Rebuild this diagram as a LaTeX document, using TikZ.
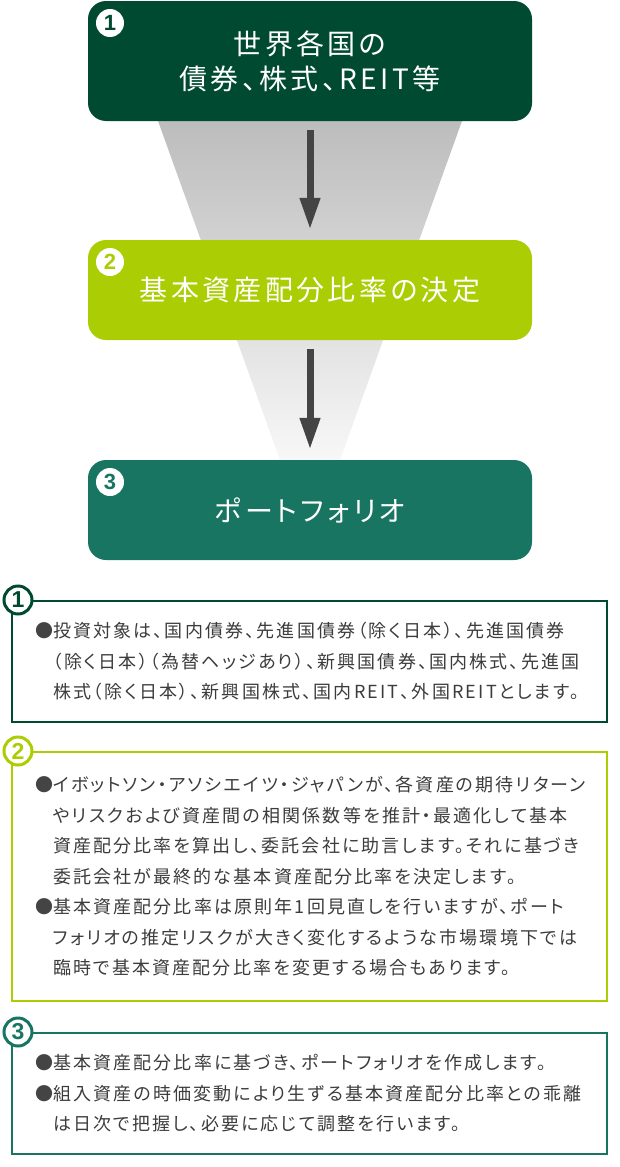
\documentclass[tikz,border=0pt]{standalone}
\usepackage{fontspec}
\usetikzlibrary{arrows.meta}
\setmainfont{Noto Sans CJK JP}
\newfontfamily\titlefont{Noto Sans CJK JP}[LetterSpace=12,RawFeature=+palt]
\newfontfamily\notefont{Noto Sans CJK JP}[LetterSpace=12,RawFeature=+palt]
\newfontfamily\numfont{Liberation Sans}
\definecolor{deepgreen}{HTML}{004A32}
\definecolor{leafgreen}{HTML}{ABCD03}
\definecolor{tealgreen}{HTML}{177562}
\definecolor{notegray}{HTML}{3C3C3C}
\definecolor{arrowgray}{HTML}{444444}
\newcommand{\bul}{\textcolor{arrowgray}{●}}
\newcommand{\ind}{\hphantom{●}}
\tikzset{
  flowbox/.style={rounded corners=18pt, minimum width=444pt, minimum height=120pt,
    text=white, align=center, font=\titlefont\fontsize{28}{35}\selectfont},
  flowarrow/.style={draw=arrowgray, line width=7pt, -{Triangle[width=19pt,length=32pt]},
    shorten <=9pt, shorten >=10pt},
  badge/.style={circle, fill=white, minimum size=28pt, inner sep=0pt,
    font=\numfont\bfseries\fontsize{22}{22}\selectfont},
  notebox/.style={draw, line width=2.5pt, minimum width=595pt, text width=549pt,
    inner xsep=23pt, align=left, text=notegray, font=\notefont\fontsize{18}{30.5}\selectfont},
  ring/.style={circle, draw, fill=white, line width=3pt, minimum size=28pt, inner sep=0pt,
    font=\numfont\bfseries\fontsize{23}{23}\selectfont}
}
\begin{document}
\begin{tikzpicture}[x=1pt,y=-1pt]
\useasboundingbox (0,0) rectangle (620,1167);
\shade[top color=black!26, bottom color=black!3] (158,121) -- (462,121) -- (340,460) -- (280,460) -- cycle;
\node[flowbox, fill=deepgreen] (box1) at (310,61) {世界各国の\\債券、株式、REIT等};
\node[flowbox, fill=leafgreen, minimum height=100pt] (box2) at (310,290) {基本資産配分比率の決定};
\node[flowbox, fill=tealgreen, minimum height=100pt] (box3) at (310,510) {ポートフォリオ};
\draw[flowarrow] (box1) -- (box2);
\draw[flowarrow] (box2) -- (box3);
\node[badge, text=deepgreen] (num1) at (110,23) {1};
\node[badge, text=leafgreen] (num2) at (110,262) {2};
\node[badge, text=tealgreen] (num3) at (110,482) {3};
\node[notebox, draw=deepgreen, minimum height=121pt] (note1) at (309.5,661.5)
  {\bul 投資対象は、国内債券、先進国債券（除く日本）、先進国債券\\
   \ind（除く日本）（為替ヘッジあり）、新興国債券、国内株式、先進国\\
   \ind 株式（除く日本）、新興国株式、国内REIT、外国REITとします。};
\node[notebox, draw=leafgreen, minimum height=249pt] (note2) at (309.5,876.5)
  {\bul イボットソン・アソシエイツ・ジャパンが、各資産の期待リターン\\
   \ind やリスクおよび資産間の相関係数等を推計・最適化して基本\\
   \ind 資産配分比率を算出し、委託会社に助言します。それに基づき\\
   \ind 委託会社が最終的な基本資産配分比率を決定します。\\
   \bul 基本資産配分比率は原則年1回見直しを行いますが、ポート\\
   \ind フォリオの推定リスクが大きく変化するような市場環境下では\\
   \ind 臨時で基本資産配分比率を変更する場合もあります。};
\node[notebox, draw=tealgreen, minimum height=121pt] (note3) at (309.5,1093.5)
  {\bul 基本資産配分比率に基づき、ポートフォリオを作成します。\\
   \bul 組入資産の時価変動により生ずる基本資産配分比率との乖離\\
   \ind は日次で把握し、必要に応じて調整を行います。};
\node[ring, draw=deepgreen, text=deepgreen] (tag1) at (18,600) {1};
\node[ring, draw=leafgreen, text=leafgreen] (tag2) at (18,751) {2};
\node[ring, draw=tealgreen, text=tealgreen] (tag3) at (18,1032) {3};
\end{tikzpicture}
\end{document}
